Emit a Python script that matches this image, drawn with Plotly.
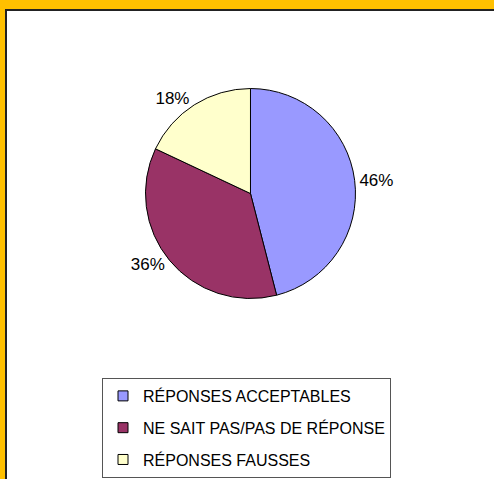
import plotly.graph_objects as go

labels = ["RÉPONSES ACCEPTABLES", "NE SAIT PAS/PAS DE RÉPONSE", "RÉPONSES FAUSSES"]
values = [46, 36, 18]
colors = ["#9999FF", "#993366", "#FFFFCC"]

FONT = "Liberation Sans, Arial, sans-serif"
GOLD = "#FFC000"
DARK = "#222222"

fig = go.Figure()

fig.add_trace(go.Pie(
    labels=labels,
    values=values,
    marker=dict(colors=colors, line=dict(color="#000000", width=1)),
    sort=False,
    direction="clockwise",
    rotation=0,
    textinfo="percent",
    texttemplate="%{percent:.0%}",
    textposition="outside",
    textfont=dict(family=FONT, size=17, color="#000000"),
    showlegend=False,
    hoverinfo="label+percent",
    domain=dict(x=[0.2945, 0.7196], y=[0.3768, 0.8152]),
))

# legend entries
for i, (lab, col) in enumerate(zip(labels, colors)):
    fig.add_trace(go.Scatter(
        x=[None], y=[None], mode="markers", name=lab,
        marker=dict(symbol="square", size=10, color=col,
                    line=dict(color="#000000", width=1)),
        legendgroup=f"g{i}", showlegend=True, hoverinfo="skip",
    ))

fig.update_layout(
    width=494, height=479,
    margin=dict(l=0, r=0, t=0, b=0),
    paper_bgcolor="#FFFFFF",
    plot_bgcolor="#FFFFFF",
    xaxis=dict(visible=False, range=[0, 1], fixedrange=True),
    yaxis=dict(visible=False, range=[0, 1], fixedrange=True),
    font=dict(family=FONT, color="#000000"),
    legend=dict(
        x=0.2065, y=0.2109, xanchor="left", yanchor="top",
        bgcolor="#FFFFFF", bordercolor="#555555", borderwidth=1,
        font=dict(family=FONT, size=16, color="#000000"),
        tracegroupgap=8,
        itemclick=False, itemdoubleclick=False,
    ),
    shapes=[
        # gold frame (top and left)
        dict(type="rect", xref="paper", yref="paper", ysizemode="pixel",
             yanchor=1, y0=-9, y1=0, x0=0, x1=1,
             fillcolor=GOLD, line=dict(width=0), layer="above"),
        dict(type="rect", xref="paper", yref="paper", xsizemode="pixel",
             xanchor=0, x0=0, x1=5, y0=0, y1=1,
             fillcolor=GOLD, line=dict(width=0), layer="above"),
        # dark inner edge
        dict(type="rect", xref="paper", yref="paper", ysizemode="pixel",
             yanchor=1, y0=-11, y1=-9, x0=0.0101, x1=1,
             fillcolor=DARK, line=dict(width=0), layer="above"),
        dict(type="rect", xref="paper", yref="paper", xsizemode="pixel",
             xanchor=0, x0=5, x1=7, y0=0, y1=0.9812,
             fillcolor=DARK, line=dict(width=0), layer="above"),
    ],
)

fig.write_html(
    "out.html",
    config={"displayModeBar": False},
    post_script="document.body.style.margin='0';document.body.style.overflow='hidden';",
)
